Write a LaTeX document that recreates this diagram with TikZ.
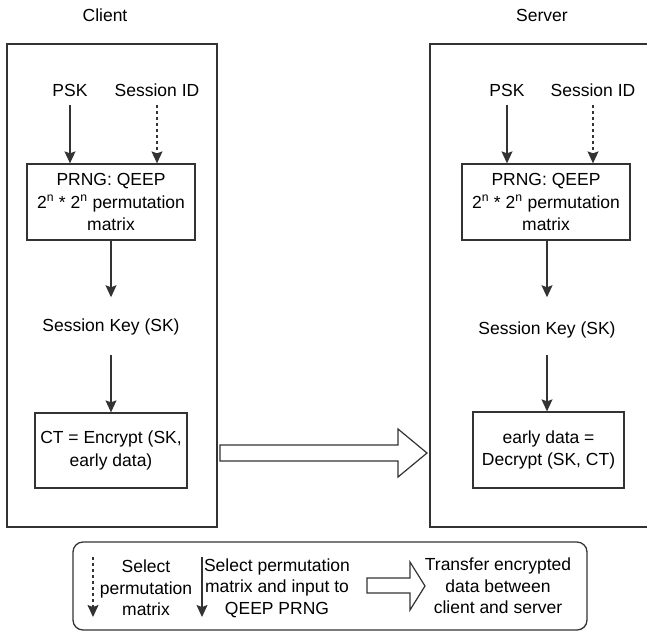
\documentclass[tikz,border=0pt]{standalone}
\usepackage{fontspec}
\setmainfont{Liberation Sans}
\usetikzlibrary{arrows.meta}

\begin{document}
\begin{tikzpicture}[x=1pt,y=-1pt,
  font=\fontsize{17.5}{22.5}\selectfont,
  color=black!80, line width=1.2pt,
  every node/.style={text=black},
  lbl/.style={inner sep=0pt, align=center},
  panel/.style={draw, line width=1.3pt, inner sep=0pt, align=center},
  arr/.style={-{Stealth[length=12pt,width=11pt,inset=2pt]}},
  dsh/.style={arr, dash pattern=on 3pt off 3pt}]
\useasboundingbox (0,0) rectangle (647,633);

% client side
\node[lbl] (clab) at (105,15) {Client};
\node[panel, minimum width=210pt, minimum height=483pt] (cbox) at (112,285.5) {};
\node[lbl] (cpsk) at (70,90) {PSK};
\node[lbl] (csid) at (157,90) {Session ID};
\node[panel, minimum width=168pt, minimum height=76pt] (cprng) at (111,202) {PRNG: QEEP\\2\textsuperscript{n} * 2\textsuperscript{n} permutation\\matrix};
\node[lbl] (csk) at (111,327) {Session Key (SK)};
\node[panel, minimum width=152pt, minimum height=75pt] (cct) at (111,450.5) {CT = Encrypt (SK,\\early data)};
\draw[arr, shorten <=8pt] (cpsk) -- (cpsk |- cprng.north);
\draw[dsh, shorten <=8pt] (csid) -- (csid |- cprng.north);
\draw[arr, shorten >=21pt] (cprng) -- (csk);
\draw[arr, shorten <=19pt] (csk) -- (cct);

% server side
\node[lbl] (slab) at (542,15) {Server};
\node[panel, minimum width=230pt, minimum height=483pt] (sbox) at (545,285.5) {};
\node[lbl] (spsk) at (507,90) {PSK};
\node[lbl] (ssid) at (593,90) {Session ID};
\node[panel, minimum width=168pt, minimum height=76pt] (sprng) at (546,202) {PRNG: QEEP\\2\textsuperscript{n} * 2\textsuperscript{n} permutation\\matrix};
\node[lbl] (ssk) at (547,330) {Session Key (SK)};
\node[panel, minimum width=151pt, minimum height=76pt] (sdec) at (548.5,450) {early data =\\Decrypt (SK, CT)};
\draw[arr, shorten <=8pt] (spsk) -- (spsk |- sprng.north);
\draw[dsh, shorten <=8pt] (ssid) -- (ssid |- sprng.north);
\draw[arr, shorten >=24pt] (sprng) -- (ssk |- sprng.south) -- (ssk);
\draw[arr, shorten <=16pt] (ssk) -- (ssk |- sdec.north);

% transfer arrow
\draw[line width=1.2pt] (220,445) -- (398,445) -- (398,429) -- (427,453) -- (398,477) -- (398,461) -- (220,461) -- cycle;

% legend
\node[panel, rounded corners=10pt, minimum width=514pt, minimum height=88pt] (legend) at (330,586) {};
\coordinate (ldtop) at (93,557);
\coordinate (ldbot) at (93,617);
\coordinate (lstop) at (202,557);
\coordinate (lsbot) at (202,617);
\draw[dsh] (ldtop) -- (ldbot);
\draw[arr] (lstop) -- (lsbot);
\node[lbl, font=\fontsize{17.5}{21.5}\selectfont] (ldtxt) at (146,588) {Select\\permutation\\matrix};
\node[lbl, font=\fontsize{17.5}{21.5}\selectfont] (lstxt) at (277,588) {Select permutation\\matrix and input to\\QEEP PRNG};
\draw[line width=1.2pt] (367,578) -- (410,578) -- (410,562) -- (425,586) -- (410,610) -- (410,593) -- (367,593) -- cycle;
\node[lbl, font=\fontsize{17.5}{21.5}\selectfont] (lttxt) at (498,586) {Transfer encrypted\\data between\\client and server};
\end{tikzpicture}
\end{document}
